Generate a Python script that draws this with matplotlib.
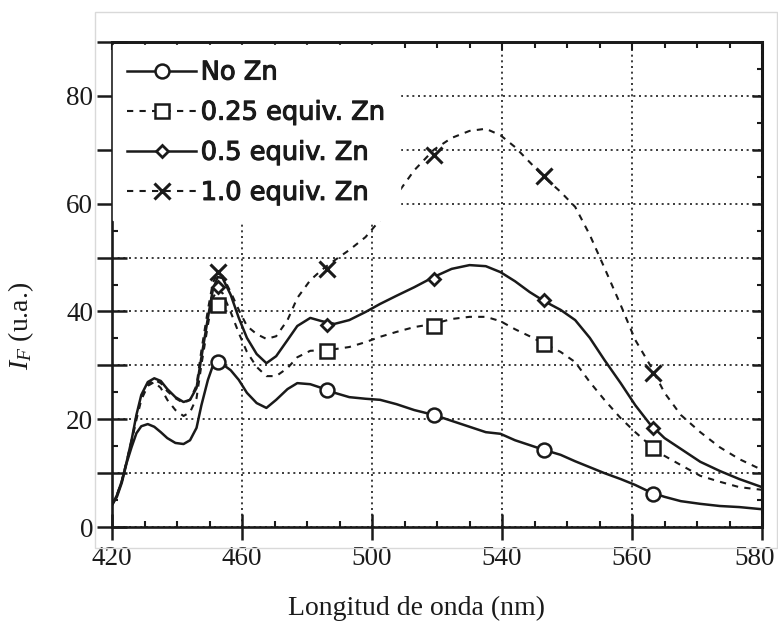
import matplotlib
matplotlib.use("Agg")
import matplotlib.pyplot as plt
import matplotlib.patheffects as pe
import matplotlib.transforms as mtransforms
from matplotlib.lines import Line2D
from matplotlib.patches import Rectangle
from matplotlib.ticker import MultipleLocator

# axis positions (uniform spacing); the original figure labels them unevenly
x_ticks = [420, 460, 500, 540, 580, 620]
x_ticklabels = ["420", "460", "500", "540", "560", "580"]
y_ticks = [0, 10, 20, 30, 40, 50, 60, 70, 80, 90]
y_ticklabels = ["0", "", "20", "", "40", "", "60", "", "80", ""]

# spectra sampled along the x axis
wl = [420, 421.5, 423, 424.5, 426, 427.5, 429, 431, 433, 435, 437, 439.5, 442, 444,
      446, 447.5, 449.5, 451, 452.5, 454, 456.5, 459, 461.5, 464.5, 467.5, 470.5,
      474, 477, 481, 484.5, 488.5, 493, 498, 502.5, 507.5, 513, 519, 524.5, 530,
      535, 539.5, 544, 548.5, 553, 558, 562.5, 567, 571.5, 576.5, 581, 585.5, 590,
      595, 601, 607, 613, 620]

no_zn = [4.1, 5.6, 8.2, 11.9, 14.8, 17.4, 18.7, 19.1, 18.6, 17.6, 16.5, 15.6, 15.4, 16.1,
         18.4, 22.6, 27.3, 29.9, 30.6, 30.2, 29.1, 27.3, 24.9, 23.0, 22.1, 23.6,
         25.6, 26.7, 26.5, 25.8, 24.9, 24.1, 23.8, 23.6, 22.8, 21.7, 20.8, 19.7, 18.6,
         17.6, 17.3, 16.1, 15.2, 14.3, 13.4, 12.2, 11.1, 10.0, 8.9, 7.8, 6.5, 5.6,
         4.8, 4.3, 3.9, 3.7, 3.3]

zn_025 = [4.1, 5.9, 8.5, 12.1, 15.8, 19.9, 23.6, 26.2, 26.9, 25.8, 23.6, 21.7, 20.6, 21.3,
          23.9, 30.1, 37.5, 42.5, 44.0, 43.4, 39.9, 36.0, 32.5, 29.7, 28.0, 28.0,
          29.5, 31.5, 32.7, 32.8, 33.0, 33.4, 34.3, 35.3, 36.2, 37.1, 37.7, 38.6, 39.0,
          39.0, 38.2, 36.7, 35.4, 34.0, 32.5, 30.6, 26.9, 23.6, 20.2, 17.6, 15.2, 13.2,
          11.5, 9.5, 8.4, 7.4, 6.9]

zn_05 = [4.1, 5.9, 8.5, 12.1, 16.1, 20.8, 24.5, 26.9, 27.6, 27.1, 25.6, 24.1, 23.2, 23.6,
         25.8, 31.5, 38.8, 44.0, 46.4, 46.2, 43.1, 38.8, 35.1, 32.1, 30.4, 31.7,
         34.7, 37.3, 38.8, 38.2, 37.7, 38.4, 39.9, 41.4, 42.9, 44.5, 46.4, 47.9, 48.6,
         48.4, 47.3, 45.6, 43.6, 41.9, 40.3, 38.4, 35.1, 31.0, 26.7, 22.6, 19.1, 16.5,
         14.5, 12.1, 10.4, 8.9, 7.4]

zn_10 = [4.1, 5.9, 8.5, 12.1, 16.1, 20.4, 24.1, 26.5, 27.3, 26.7, 25.2, 23.9, 23.0, 23.6,
         26.3, 32.8, 40.3, 45.3, 47.1, 46.6, 43.6, 40.3, 37.3, 35.8, 34.9, 35.4,
         38.4, 42.5, 45.8, 47.7, 49.5, 51.4, 53.8, 57.0, 61.6, 66.2, 70.0, 72.2, 73.5,
         73.9, 72.7, 70.5, 67.7, 64.9, 62.2, 59.4, 54.2, 48.1, 41.2, 34.7, 30.1, 24.9,
         20.8, 17.6, 14.8, 12.6, 10.6]

# marker points
mk_x = [452.5, 486, 519, 553, 586.5]
mk_no_zn = [30.6, 25.4, 20.8, 14.3, 6.1]
mk_zn_025 = [41.2, 32.7, 37.3, 34.0, 14.7]
mk_zn_05 = [44.5, 37.5, 46.0, 42.1, 18.4]
mk_zn_10 = [47.3, 47.9, 69.0, 65.1, 28.6]

labels = ["No Zn", "0.25 equiv. Zn", "0.5 equiv. Zn", "1.0 equiv. Zn"]

plt.rcParams["mathtext.fontset"] = "custom"
plt.rcParams["mathtext.rm"] = "Liberation Serif"
plt.rcParams["mathtext.it"] = "Liberation Serif:italic"

ink = "#1a1a1a"
dash = (0, (3, 3))

fig = plt.figure(figsize=(7.78, 6.22), dpi=100)
ax = fig.add_axes([0.1440, 0.1527, 0.8355, 0.7798])

# faint border of the scanned figure
fig.patches.append(Rectangle((95 / 778, 1 - 548 / 622), 682 / 778, 536 / 622,
                             transform=fig.transFigure, fill=False,
                             edgecolor="#d9d9d9", lw=1.0, zorder=0))

styles = [
    dict(ls="-", lw=1.8, marker="o", ms=10, mfc="white", mew=1.8),
    dict(ls=dash, lw=1.5, marker="s", ms=9.5, mfc="white", mew=1.8),
    dict(ls="-", lw=1.8, marker="D", ms=6.5, mfc="white", mew=2.0),
    dict(ls=dash, lw=1.5, marker="x", ms=12, mfc="none", mew=2.2),
]
curves = [no_zn, zn_025, zn_05, zn_10]
points = [mk_no_zn, mk_zn_025, mk_zn_05, mk_zn_10]

handles = []
for ys, pts, st, lab in zip(curves, points, styles, labels):
    ax.plot(wl, ys, color=ink, ls=st["ls"], lw=st["lw"], zorder=3)
    ax.plot(mk_x, pts, ls="none", color=ink, marker=st["marker"], ms=st["ms"],
            mfc=st["mfc"], mec=ink, mew=st["mew"], zorder=4)
    handles.append(Line2D([], [], color=ink, ls=st["ls"], lw=st["lw"],
                          marker=st["marker"], ms=st["ms"], mfc=st["mfc"],
                          mec=ink, mew=st["mew"], label=lab))

ax.set_xlim(420, 620)
ax.set_ylim(0, 90)

ax.set_xticks(x_ticks)
ax.set_xticklabels(x_ticklabels)
ax.set_yticks(y_ticks)
ax.set_yticklabels(y_ticklabels)
ax.xaxis.set_minor_locator(MultipleLocator(10))
ax.yaxis.set_minor_locator(MultipleLocator(5))

ax.grid(True, which="major", color=ink, ls=(0, (1.2, 2.2)), lw=1.2, zorder=1)

serif = "Liberation Serif"
ax.tick_params(axis="x", which="major", direction="inout", length=19, width=1.8,
               color=ink, pad=4, top=False)
ax.tick_params(axis="x", which="minor", direction="in", length=4, width=1.5,
               color=ink, top=False)
ax.tick_params(axis="y", which="major", direction="inout", length=21, width=1.8,
               color=ink, pad=3, right=False)
ax.tick_params(axis="y", which="minor", direction="in", length=4, width=1.5,
               color=ink, right=False)
for t in ax.get_xticklabels() + ax.get_yticklabels():
    t.set_fontfamily(serif)
    t.set_fontsize(19.5)
    t.set_color(ink)

# last x label sits a little left of its tick, as in the original
last = ax.get_xticklabels()[-1]
last.set_transform(last.get_transform() +
                   mtransforms.ScaledTranslation(-5 / 72, 0, fig.dpi_scale_trans))

for sp in ax.spines.values():
    sp.set_linewidth(1.9)
    sp.set_color(ink)

# top and right axes carry shorter inward ticks
top = ax.secondary_xaxis("top")
top.set_xticks(x_ticks)
top.xaxis.set_minor_locator(MultipleLocator(10))
top.tick_params(which="major", direction="in", length=6, width=1.5, color=ink,
                labeltop=False)
top.tick_params(which="minor", direction="in", length=4, width=1.5, color=ink)
top.spines["top"].set_linewidth(1.9)

right = ax.secondary_yaxis("right")
right.set_yticks(y_ticks)
right.yaxis.set_minor_locator(MultipleLocator(5))
right.tick_params(which="major", direction="in", length=7, width=1.8, color=ink,
                  labelright=False)
right.tick_params(which="minor", direction="in", length=3.5, width=1.5, color=ink)
right.spines["right"].set_linewidth(2.2)

ax.set_xlabel("Longitud de onda (nm)", fontfamily=serif, fontsize=20, color=ink)
ax.xaxis.set_label_coords(0.468, -0.142)
ax.set_ylabel(r"$I_F$ (u.a.)", fontfamily=serif, fontsize=20, color=ink)
ax.yaxis.set_label_coords(-0.117, 0.414)

leg = ax.legend(handles=handles, loc="upper left", bbox_to_anchor=(0.002, 0.993),
                borderaxespad=0, borderpad=0.55, handlelength=2.65,
                handletextpad=0.2, labelspacing=0.55, frameon=True,
                fancybox=False, framealpha=1, facecolor="white",
                edgecolor="white", prop={"family": "DejaVu Sans", "size": 18.5})
leg.set_zorder(5)
for t in leg.get_texts():
    t.set_color(ink)
    t.set_path_effects([pe.withStroke(linewidth=0.8, foreground=ink)])

fig.savefig("out.png", dpi=100)
